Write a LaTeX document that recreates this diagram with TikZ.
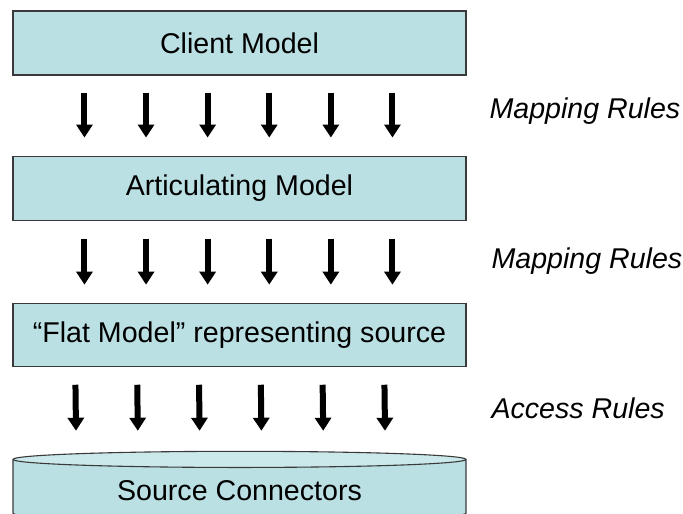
\documentclass[tikz,border=0pt]{standalone}
\usepackage{fontspec}
\setmainfont{Liberation Sans}
\usepackage{xcolor}
\usepackage{tikz}
\usetikzlibrary{arrows.meta,positioning,shapes.geometric,calc}
\definecolor{boxfill}{HTML}{BBE0E3}
\definecolor{drumtop}{HTML}{CBE8EA}
\definecolor{edge}{HTML}{3A3A3A}
\newcommand\bigtext{\fontsize{28.6}{34}\selectfont}
\tikzset{
  box/.style   ={draw=edge,line width=1.1pt,fill=boxfill,minimum width=453pt,
                 minimum height=64pt,inner sep=0pt,font=\bigtext},
  drum/.style  ={cylinder,shape border rotate=90,draw=edge,line width=1.1pt,
                 cylinder uses custom fill,cylinder body fill=boxfill,
                 cylinder end fill=drumtop,minimum width=453pt,minimum height=70pt,
                 aspect=0.066,inner sep=0pt,font=\bigtext},
  fat/.style   ={-{Triangle[width=16pt,length=13pt]},line width=6pt,draw=black},
  rulename/.style={anchor=west,font=\bigtext\itshape}
}

\begin{document}
\begin{tikzpicture}[x=1pt,y=1pt]
    \useasboundingbox (0,0) rectangle (683,-514);
    \node[box] (client) at (239.5,-43) {Client Model};
    \node[box,below=80pt of client] (artic) {Articulating Model};
    \node[box,below=82pt of artic,minimum height=63pt] (flat) {``Flat Model'' representing source};
    \node[drum,below=84pt of flat] (src) {Source Connectors};
    % six arrows between each pair of layers
    \foreach \k in {0,...,5}{
      \draw[fat] ($(client.south west)+(72+61.6*\k,-17)$) -- ($(artic.north west)+(72+61.6*\k,18)$);
      \draw[fat] ($(artic.south west)+(72+61.6*\k,-18)$) -- ($(flat.north west)+(72+61.6*\k,18)$);
      \draw[fat] ($(flat.south west)+(63+61.8*\k,-18)$) -- ($(src.north)+(-163.5+61.8*\k,20)$);
    }
    \node[rulename] (map1) at (486,-111) {Mapping Rules};
    \node[rulename] (map2) at (488,-261) {Mapping Rules};
    \node[rulename] (acc) at (488,-408) {Access Rules};
  \end{tikzpicture}
\end{document}
